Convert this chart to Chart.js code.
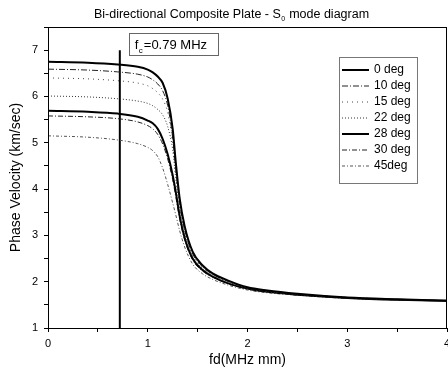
<!DOCTYPE html>
<html>
<head>
<meta charset="utf-8">
<script src="https://cdn.jsdelivr.net/npm/chart.js@4.4.1/dist/chart.umd.min.js"></script>
<style>
  html, body { margin: 0; padding: 0; background: #fff; }
</style>
</head>
<body>
<canvas id="chart" width="448" height="376"></canvas>
<script>
// fd values (MHz mm) shared by all curves
var fd = [0, 0.4, 0.7, 0.9, 1.0, 1.05, 1.1, 1.15, 1.2, 1.25, 1.28, 1.32, 1.37, 1.45, 1.55, 1.65, 1.8, 2.0, 2.2, 2.5, 3.0, 3.5, 4.0];

// phase velocity (km/sec) per fibre angle
var deg0  = [6.75, 6.73, 6.69, 6.64, 6.58, 6.52, 6.43, 6.29, 5.95, 5.30, 4.60, 3.80, 3.20, 2.65, 2.35, 2.18, 2.03, 1.88, 1.81, 1.74, 1.66, 1.62, 1.59];
var deg10 = [6.59, 6.57, 6.53, 6.48, 6.42, 6.36, 6.27, 6.12, 5.80, 5.10, 4.45, 3.70, 3.12, 2.60, 2.32, 2.16, 2.01, 1.87, 1.80, 1.73, 1.66, 1.62, 1.59];
var deg15 = [6.40, 6.38, 6.34, 6.29, 6.23, 6.17, 6.08, 5.94, 5.65, 5.00, 4.35, 3.62, 3.07, 2.57, 2.30, 2.15, 2.00, 1.86, 1.79, 1.73, 1.65, 1.61, 1.59];
var deg22 = [6.01, 5.99, 5.95, 5.90, 5.85, 5.80, 5.72, 5.60, 5.35, 4.85, 4.25, 3.55, 3.02, 2.54, 2.28, 2.13, 1.99, 1.86, 1.79, 1.72, 1.65, 1.61, 1.59];
var deg28 = [5.69, 5.67, 5.63, 5.56, 5.48, 5.42, 5.30, 5.08, 4.75, 4.30, 3.95, 3.42, 2.95, 2.50, 2.25, 2.11, 1.97, 1.85, 1.78, 1.72, 1.65, 1.61, 1.59];
var deg30 = [5.58, 5.56, 5.52, 5.45, 5.37, 5.30, 5.18, 4.97, 4.65, 4.20, 3.85, 3.35, 2.90, 2.47, 2.23, 2.10, 1.96, 1.84, 1.78, 1.72, 1.65, 1.61, 1.59];
var deg45 = [5.15, 5.12, 5.06, 4.98, 4.90, 4.83, 4.70, 4.45, 4.10, 3.70, 3.45, 3.10, 2.75, 2.38, 2.17, 2.05, 1.93, 1.82, 1.76, 1.71, 1.64, 1.61, 1.59];

var series = [deg0, deg10, deg15, deg22, deg28, deg30, deg45];
var seriesLabels = ['0 deg', '10 deg', '15 deg', '22 deg', '28 deg', '30 deg', '45deg'];

// cut-off frequency marker
var cutoffFd = 0.72;
var cutoffV = [1, 7.0];
var cutoffText = '=0.79 MHz';

var titleText = 'Bi-directional Composite Plate - S';
var titleTail = ' mode diagram';

// line look per series
var lineStyles = [
    { w: 2,   dash: [],              color: '#000' },
    { w: 1,   dash: [6, 2, 1, 2],    color: '#222' },
    { w: 1,   dash: [1, 4],          color: '#444' },
    { w: 1,   dash: [1, 2],          color: '#333' },
    { w: 2,   dash: [],              color: '#000' },
    { w: 1,   dash: [5, 2, 1, 2],    color: '#222' },
    { w: 1,   dash: [3, 2, 1, 2],    color: '#555' }
];

var font = "'Liberation Sans', Arial, sans-serif";

function points(ys) {
    return fd.map(function (x, i) { return { x: x, y: ys[i] }; });
}

var datasets = series.map(function (ys, i) {
    var s = lineStyles[i];
    return {
        label: seriesLabels[i],
        data: points(ys),
        borderColor: s.color,
        borderWidth: s.w,
        borderDash: s.dash,
        pointRadius: 0,
        fill: false,
        cubicInterpolationMode: 'monotone'
    };
});

datasets.push({
    label: 'cutoff',
    data: [{ x: cutoffFd, y: cutoffV[0] }, { x: cutoffFd, y: cutoffV[1] }],
    borderColor: '#000',
    borderWidth: 2,
    pointRadius: 0,
    fill: false
});

// frame around the plot, title, the fc note and the legend box
var extras = {
    id: 'extras',
    afterDraw: function (chart) {
        var ctx = chart.ctx;
        var a = chart.chartArea;
        var xs = chart.scales.x, ys = chart.scales.y;
        ctx.save();
        ctx.strokeStyle = '#000';
        ctx.lineWidth = 1;
        ctx.strokeRect(a.left + 0.5, a.top + 0.5, a.right - a.left - 1, a.bottom - a.top);

        // title with subscript 0
        ctx.fillStyle = '#000';
        ctx.textBaseline = 'alphabetic';
        ctx.textAlign = 'left';
        ctx.font = '12.5px ' + font;
        var w1 = ctx.measureText(titleText).width;
        var w2 = ctx.measureText(titleTail).width;
        ctx.font = '7px ' + font;
        var wz = ctx.measureText('0').width;
        var tx = 231 - (w1 + wz + w2) / 2;
        ctx.font = '12.5px ' + font;
        ctx.fillText(titleText, tx, 18);
        ctx.fillText(titleTail, tx + w1 + wz + 1, 18);
        ctx.font = '7px ' + font;
        ctx.fillText('0', tx + w1 + 0.5, 21);

        // fc note
        var bx = xs.getPixelForValue(0.81), by = ys.getPixelForValue(7.37);
        var bw = xs.getPixelForValue(1.70) - bx, bh = ys.getPixelForValue(6.90) - by;
        ctx.strokeStyle = '#666';
        ctx.strokeRect(Math.round(bx) + 0.5, Math.round(by) + 0.5, Math.round(bw), Math.round(bh));
        ctx.fillStyle = '#000';
        ctx.font = '13px ' + font;
        ctx.fillText('f', bx + 6, by + 16);
        ctx.font = '8px ' + font;
        ctx.fillText('c', bx + 10, by + 20);
        ctx.font = '13px ' + font;
        ctx.fillText(cutoffText, bx + 15, by + 16);

        // legend
        var lx = 339, ly = 57, lw = 78, lh = 126;
        ctx.strokeStyle = '#777';
        ctx.setLineDash([]);
        ctx.strokeRect(lx + 0.5, ly + 0.5, lw, lh);
        ctx.font = '12px ' + font;
        ctx.textBaseline = 'middle';
        chart.data.datasets.forEach(function (ds, i) {
            if (i >= seriesLabels.length) return;
            var y = ly + 13 + i * 16;
            ctx.beginPath();
            ctx.strokeStyle = ds.borderColor;
            ctx.lineWidth = ds.borderWidth;
            ctx.setLineDash(ds.borderDash);
            ctx.moveTo(lx + 3, y);
            ctx.lineTo(lx + 30, y);
            ctx.stroke();
            ctx.setLineDash([]);
            ctx.fillStyle = '#000';
            ctx.fillText(ds.label, lx + 35, y);
        });
        ctx.restore();
    }
};

var ctx = document.getElementById('chart').getContext('2d');
var myChart = new Chart(ctx, {
    type: 'line',
    data: { datasets: datasets },
    options: {
        responsive: false,
        animation: false,
        layout: { padding: { left: 0, right: 1, top: 27, bottom: 0 } },
        plugins: {
            legend: { display: false },
            tooltip: { enabled: false },
            title: { display: false }
        },
        scales: {
            x: {
                type: 'linear',
                min: 0,
                max: 4,
                afterFit: function (s) { s.height = 48; s.paddingRight = 0; s.paddingLeft = 0; },
                ticks: {
                    stepSize: 0.5,
                    color: '#000',
                    font: { family: font, size: 11 },
                    padding: 5,
                    maxRotation: 0,
                    callback: function (v) { return Number.isInteger(v) ? String(v) : ''; }
                },
                grid: { drawOnChartArea: false, tickLength: 4, tickColor: '#000' },
                border: { color: '#000', width: 1 },
                title: {
                    display: true,
                    text: 'fd(MHz mm)',
                    color: '#000',
                    font: { family: font, size: 14 },
                    padding: { top: 0, bottom: 7 }
                }
            },
            y: {
                min: 1,
                max: 7.5,
                afterFit: function (s) { s.width = 48; s.paddingTop = 0; s.paddingBottom = 0; },
                ticks: {
                    stepSize: 0.5,
                    color: '#000',
                    font: { family: font, size: 11 },
                    padding: 6,
                    callback: function (v) { return Number.isInteger(v) ? String(v) : ''; }
                },
                grid: { drawOnChartArea: false, tickLength: 4, tickColor: '#000' },
                border: { color: '#000', width: 1 },
                title: {
                    display: true,
                    text: 'Phase Velocity (km/sec)',
                    color: '#000',
                    font: { family: font, size: 14 },
                    padding: { top: 8, bottom: 0 }
                }
            }
        }
    },
    plugins: [extras]
});
</script>
</body>
</html>
